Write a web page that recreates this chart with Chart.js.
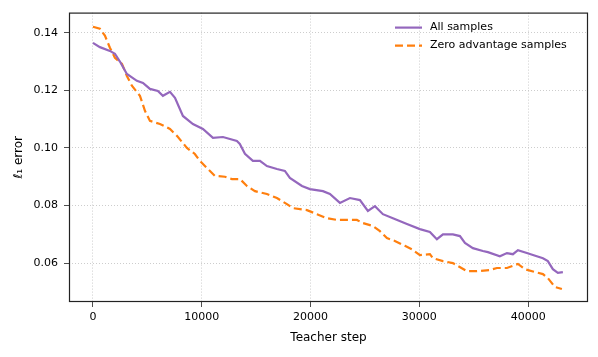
<!DOCTYPE html>
<html>
<head>
<meta charset="utf-8">
<script src="https://cdn.jsdelivr.net/npm/chart.js@4"></script>
<style>
	body { margin: 0; background: #fff; }
</style>
</head>
<body>
<canvas id="errChart" width="598" height="357"></canvas>
<script>
// data
const allSteps = [0, 640, 1560, 2020, 2480, 3120, 4040, 4600, 5240, 5970, 6430, 7080, 7540, 8270, 9190, 10110, 11030, 11950, 13230, 13500, 13970, 14700, 15350, 15990, 16910, 17640, 18100, 19210, 19940, 21140, 21780, 22700, 23620, 24540, 25270, 25920, 26650, 27570, 28860, 30050, 30970, 31610, 32170, 33080, 33730, 34190, 34920, 35840, 36300, 37400, 38050, 38600, 39060, 39880, 40440, 41360, 41810, 42270, 42730, 43190];
const allValues = [0.1365, 0.135, 0.1337, 0.1327, 0.130, 0.1257, 0.1233, 0.1226, 0.1205, 0.1198, 0.1181, 0.1195, 0.1174, 0.1111, 0.1083, 0.1066, 0.1035, 0.1038, 0.1024, 0.1014, 0.098, 0.0955, 0.0955, 0.0937, 0.0927, 0.092, 0.0896, 0.0868, 0.0857, 0.085, 0.084, 0.0809, 0.0826, 0.0819, 0.0781, 0.0798, 0.077, 0.0756, 0.0736, 0.0718, 0.0708, 0.0683, 0.070, 0.070, 0.0694, 0.067, 0.0652, 0.0642, 0.0638, 0.0624, 0.0635, 0.0631, 0.0645, 0.0635, 0.0628, 0.0617, 0.0607, 0.0579, 0.0566, 0.0569];

const zeroSteps = [0, 640, 1100, 1560, 2020, 2670, 3120, 3580, 4320, 4780, 5240, 6160, 7080, 7720, 8640, 9370, 9830, 10480, 11210, 12130, 12770, 13510, 14150, 14890, 15990, 16910, 17830, 18380, 19670, 20590, 21500, 22420, 23340, 24260, 24810, 25730, 26380, 27020, 27750, 28670, 29320, 30050, 30970, 31250, 32170, 33080, 33540, 34370, 35290, 36480, 37130, 38050, 39060, 39700, 40620, 41360, 41810, 42460, 43100];
const zeroValues = [0.1421, 0.1414, 0.139, 0.1348, 0.1313, 0.1292, 0.125, 0.1216, 0.1181, 0.1129, 0.1094, 0.1083, 0.1066, 0.1042, 0.100, 0.0979, 0.0955, 0.093, 0.0903, 0.090, 0.0892, 0.0892, 0.0868, 0.085, 0.084, 0.0826, 0.0805, 0.0791, 0.0784, 0.077, 0.0756, 0.075, 0.075, 0.075, 0.0739, 0.0729, 0.0711, 0.0687, 0.0677, 0.066, 0.0648, 0.0628, 0.0631, 0.0617, 0.0607, 0.060, 0.059, 0.0572, 0.0572, 0.0576, 0.0583, 0.0583, 0.0597, 0.0579, 0.0569, 0.0562, 0.0548, 0.0517, 0.051];

const xTicks = [0, 10000, 20000, 30000, 40000];
const yTicks = [0.06, 0.08, 0.10, 0.12, 0.14];
const seriesLabels = ["All samples", "Zero advantage samples"];

const FONT = "'DejaVu Sans', sans-serif";

function toPoints(xs, ys) {
	return xs.map((x, i) => ({ x: x, y: ys[i] }));
}

// frame round the plot
const framePlugin = {
	id: "frame",
	afterDraw(chart) {
		const a = chart.chartArea;
		const ctx = chart.ctx;
		ctx.save();
		ctx.strokeStyle = "#222";
		ctx.lineWidth = 1.2;
		ctx.strokeRect(a.left + 0.5, a.top + 0.5, a.right - a.left - 1, a.bottom - a.top - 1);
		ctx.restore();
	},
};

// legend, no box
const legendPlugin = {
	id: "mplLegend",
	afterDraw(chart) {
		const a = chart.chartArea;
		const ctx = chart.ctx;
		ctx.save();
		ctx.font = "11px " + FONT;
		ctx.textBaseline = "middle";
		chart.data.datasets.forEach((ds, i) => {
			const y = a.top + 15 + i * 18;
			ctx.strokeStyle = ds.borderColor;
			ctx.lineWidth = ds.borderWidth;
			ctx.setLineDash(ds.borderDash || []);
			ctx.beginPath();
			ctx.moveTo(a.right - 193, y);
			ctx.lineTo(a.right - 166, y);
			ctx.stroke();
			ctx.setLineDash([]);
			ctx.fillStyle = "#000";
			ctx.fillText(ds.label, a.right - 158, y);
		});
		ctx.restore();
	},
};

const ctx = document.getElementById("errChart").getContext("2d");

new Chart(ctx, {
	type: "line",
	data: {
		datasets: [
			{
				label: seriesLabels[0],
				data: toPoints(allSteps, allValues),
				borderColor: "#9467bd",
				borderWidth: 2.2,
				pointRadius: 0,
				tension: 0,
			},
			{
				label: seriesLabels[1],
				data: toPoints(zeroSteps, zeroValues),
				borderColor: "#ff7f0e",
				borderWidth: 2.2,
				borderDash: [8, 4],
				pointRadius: 0,
				tension: 0,
			},
		],
	},
	options: {
		responsive: false,
		animation: false,
		devicePixelRatio: 1,
		layout: { padding: { top: 12, right: 10, left: 0, bottom: 0 } },
		plugins: {
			legend: { display: false },
			tooltip: { enabled: false },
		},
		scales: {
			x: {
				type: "linear",
				min: -2200,
				max: 45500,
				afterBuildTicks: (scale) => {
					scale.ticks = xTicks.map((v) => ({ value: v }));
				},
				afterFit: (scale) => {
					scale.height = 55;
				},
				ticks: {
					color: "#000",
					font: { family: FONT, size: 11 },
					padding: 4,
					maxRotation: 0,
					callback: (v) => String(v),
				},
				grid: {
					color: "#c0c0c0",
					lineWidth: 0.8,
					tickColor: "#222",
					tickLength: 5,
					tickBorderDash: [],
				},
				border: { display: false, dash: [1, 2] },
				title: {
					display: true,
					text: "Teacher step",
					color: "#000",
					font: { family: FONT, size: 12 },
					padding: { top: 0, bottom: 12 },
				},
			},
			y: {
				type: "linear",
				min: 0.0465,
				max: 0.147,
				afterBuildTicks: (scale) => {
					scale.ticks = yTicks.map((v) => ({ value: v }));
				},
				afterFit: (scale) => {
					scale.width = 69;
				},
				ticks: {
					color: "#000",
					font: { family: FONT, size: 11 },
					padding: 6,
					callback: (v) => v.toFixed(2),
				},
				grid: {
					color: "#c0c0c0",
					lineWidth: 0.8,
					tickColor: "#222",
					tickLength: 5,
					tickBorderDash: [],
				},
				border: { display: false, dash: [1, 2] },
				title: {
					display: true,
					text: "ℓ₁ error",
					color: "#000",
					font: { family: FONT, size: 12 },
					padding: { top: 12, bottom: 0 },
				},
			},
		},
	},
	plugins: [framePlugin, legendPlugin],
});
</script>
</body>
</html>
